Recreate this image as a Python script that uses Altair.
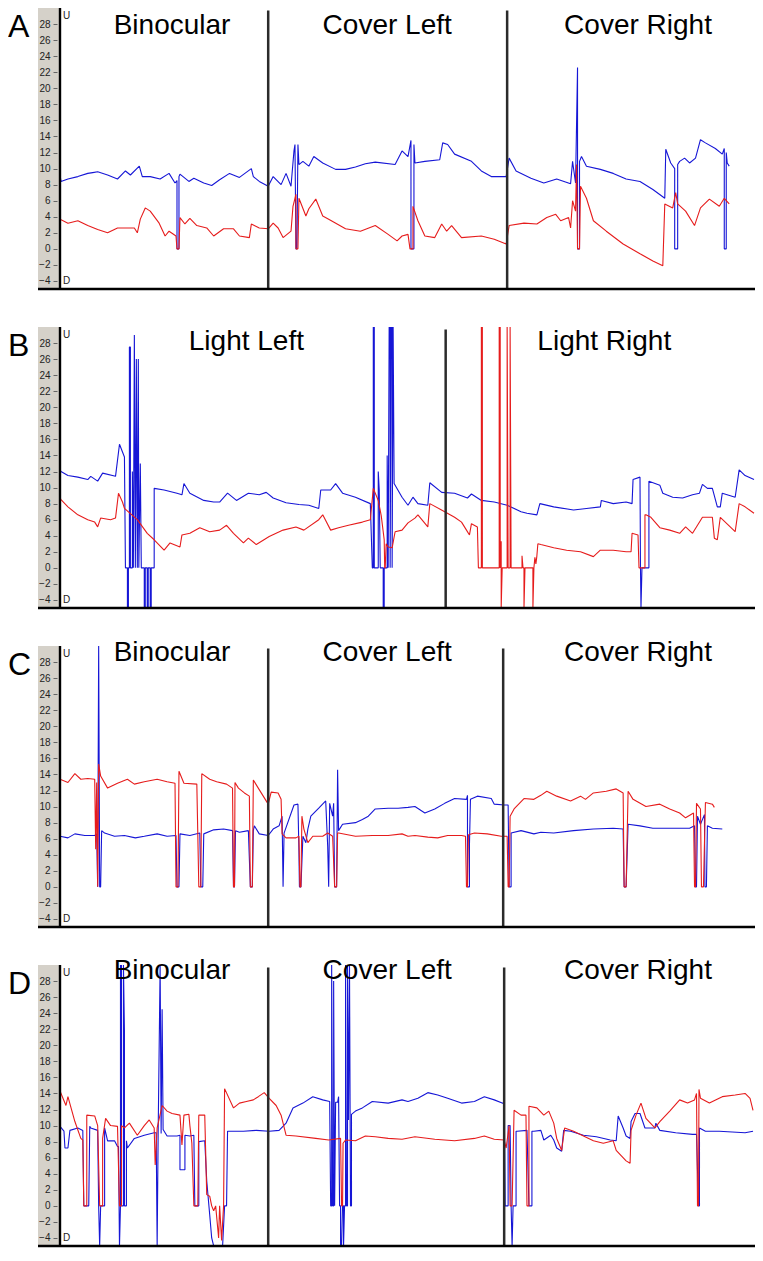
import altair as alt
import pandas as pd

# ---------------- data (time sample, value); 30 / -5 = trace leaves the plot ----------------
A_BLUE = [(62, 9.2), (63, 8.4), (70, 8.7), (80, 9.0), (90, 9.4), (95, 9.5), (100, 9.6), (110, 9.2), (120, 8.7),
          (128, 9.7), (133, 9.2), (142, 10.3), (145, 9.0), (153, 9.0), (163, 8.7), (172, 9.4), (178, 8.2), (180, 8.5),
          (180, 0), (182, 0), (182, 9.0), (183, 9.3), (192, 8.4), (197, 8.8), (207, 8.2), (215, 7.9), (223, 8.6),
          (233, 9.4), (243, 8.9), (255, 10.0), (257, 9.0), (263, 8.4), (272, 7.8), (277, 9.0), (285, 8.0), (290, 9.4),
          (295, 7.8), (298, 12.2), (299, 13.0), (300, 0), (301, 0), (302, 13.0), (303, 10.5), (307, 10.9), (313, 10.3),
          (318, 11.5), (327, 10.7), (340, 9.9), (350, 9.9), (360, 10.2), (370, 10.6), (380, 10.8), (400, 10.5),
          (407, 12.2), (413, 11.5), (416, 13.5), (416, 0), (419, 0), (419, 13.0), (420, 10.7), (430, 10.9), (445, 11.1),
          (448, 13.2), (453, 13.0), (460, 11.8), (477, 10.9), (487, 9.7), (497, 9.0), (512, 9.0), (515, 11.3),
          (522, 9.7), (537, 8.8), (550, 8.2), (563, 8.7), (577, 8.1), (579, 10.9), (582, 8.2), (584, 22.6), (584, 0),
          (586, 0), (586, 10.9), (588, 11.5), (593, 10.3), (607, 9.9), (620, 9.4), (633, 8.7), (647, 8.4), (660, 7.4),
          (672, 6.3), (673, 12.4), (678, 10.7), (682, 10.0), (682, 0), (685, 0), (685, 10.5), (687, 10.9), (692, 11.3),
          (697, 10.7), (703, 11.3), (708, 13.6), (713, 13.2), (723, 12.5), (730, 11.8), (732, 12.5), (732, 0), (734, 0),
          (734, 12.0), (735, 10.7), (737, 10.3)]
A_RED = [(62, 3.7), (70, 3.2), (80, 3.5), (90, 2.9), (100, 2.4), (110, 2.0), (120, 2.6), (137, 2.6), (140, 2.0),
         (143, 3.7), (148, 5.1), (153, 4.7), (162, 3.2), (168, 1.6), (172, 2.2), (179, 1.6), (180, 0), (182, 0),
         (183, 3.9), (188, 3.1), (193, 3.8), (200, 2.9), (210, 2.6), (217, 1.6), (227, 2.5), (237, 2.5), (243, 1.6),
         (253, 1.4), (255, 3.1), (263, 2.6), (272, 2.5), (277, 3.2), (282, 2.6), (287, 1.4), (295, 2.2), (297, 5.3),
         (300, 6.8), (300, 0), (302, 0), (303, 6.3), (310, 4.1), (313, 5.0), (320, 6.2), (327, 4.1), (333, 3.7),
         (350, 2.5), (365, 2.2), (380, 2.9), (393, 1.8), (402, 1.0), (407, 1.6), (413, 1.8), (415, 0), (418, 0),
         (418, 5.3), (423, 3.5), (430, 1.6), (440, 1.4), (447, 3.1), (452, 2.2), (457, 2.9), (467, 1.4), (487, 1.6),
         (500, 1.2), (512, 0.6), (515, 2.9), (530, 3.2), (543, 3.1), (553, 3.9), (562, 4.3), (567, 3.5), (575, 3.9),
         (577, 2.6), (579, 6.0), (582, 4.7), (583, 10.5), (584, 0), (586, 0), (587, 7.8), (593, 6.3), (600, 3.5),
         (613, 2.2), (630, 0.6), (647, -0.6), (660, -1.5), (670, -2.1), (672, 5.6), (680, 5.1), (683, 7.0), (685, 5.6),
         (693, 4.7), (702, 2.9), (708, 5.1), (717, 6.2), (727, 5.3), (732, 6.3), (737, 5.6)]

B_BLUE = [(62, 12.2), (63, 12.0), (70, 11.5), (80, 11.3), (90, 11.0), (93, 11.4), (100, 10.8), (105, 11.8),
          (118, 11.4), (122, 15.4), (127, 13.8), (128, 0), (130, 0), (130, -5), (131, -5), (131, 0), (132, 0),
          (132, 27.5), (133, 27.5), (133, 0), (135, 0), (135, 12), (136, 0), (137, 29), (138, 0), (139, 26), (140, 0),
          (141, 26), (141.5, 0), (143, 13), (144, 0), (147, 0), (147, -5), (148, -5), (148, 0), (150, 0), (150, -5),
          (151, -5), (151, 0), (153, 0), (153, -5), (154, -5), (154, 0), (157, 0), (157, 9.9), (167, 9.7), (180, 9.3),
          (185, 9.1), (187, 10.5), (193, 9.3), (207, 8.4), (217, 8.2), (223, 8.2), (231, 9.3), (240, 8.4), (252, 9.3),
          (263, 9.1), (270, 9.4), (277, 8.7), (290, 8.1), (303, 7.9), (313, 7.8), (323, 7.4), (325, 9.7), (335, 9.7),
          (340, 10.5), (347, 9.3), (360, 8.8), (375, 8.0), (377, 0), (378, 0), (378, 30), (379, 30), (379, 0),
          (383, 0), (383, 12), (384, 9.7), (385, 0), (388, 0), (388, -5), (389, -5), (389, 0), (392, 0), (392, 14),
          (393, 0), (394, 30), (395, 30), (395, 0), (396, 30), (397, 30), (397, 0), (398, 30), (399, 10.5), (407, 8.8),
          (413, 7.8), (418, 8.8), (423, 8.0), (433, 7.8), (435, 10.6), (447, 9.4), (460, 9.3), (473, 8.7), (477, 9.2),
          (487, 8.4), (500, 8.2), (513, 7.8), (527, 7.0), (533, 6.8), (543, 6.6), (546, 8.0), (560, 7.6), (580, 7.2),
          (593, 7.4), (607, 7.6), (608, 8.4), (620, 8.0), (633, 8.2), (639, 8.0), (640, 11.0), (647, 11.3),
          (647.5, 0), (648, -5), (649, 0), (656, 0), (656, 10.8), (667, 10.3), (670, 9.3), (680, 8.8), (690, 8.7),
          (700, 9.1), (707, 9.3), (710, 10.4), (715, 9.9), (720, 9.9), (725, 7.6), (728, 7.6), (730, 9.3), (743, 8.8),
          (747, 12.2), (753, 11.5), (762, 11.0)]
B_RED = [(62, 8.7), (63, 8.5), (70, 7.6), (80, 6.6), (90, 6.0), (97, 5.7), (100, 5.1), (103, 6.2), (113, 6.0),
         (118, 6.2), (121, 9.3), (125, 8.2), (127, 7.4), (140, 6.0), (150, 4.3), (157, 3.5), (167, 2.2), (173, 3.1),
         (183, 2.6), (185, 4.1), (193, 4.3), (203, 5.0), (213, 4.5), (223, 4.7), (230, 5.3), (237, 4.3), (247, 3.1),
         (252, 3.7), (260, 2.9), (273, 3.9), (287, 4.7), (300, 5.1), (308, 4.7), (323, 6.0), (327, 6.6), (335, 4.7),
         (343, 5.0), (353, 5.3), (367, 5.7), (375, 6.0), (378, 9.9), (383, 8.4), (386, 6.5), (389, 3.5), (389.5, 0),
         (390, 0), (391, 3.0), (393, 2.6), (397, 2.5), (400, 4.5), (407, 4.7), (413, 5.6), (420, 6.2), (423, 6.6),
         (433, 5.1), (435, 8.0), (450, 7.0), (460, 6.3), (467, 5.7), (472, 4.7), (475, 4.1), (477, 5.5), (483, 5.1),
         (484, 0), (487, 0), (487, 30), (488, 30), (488, 0), (505, 0), (505, 30), (506, 30), (506, 0), (507, 3.3),
         (507, -5), (508, 0), (513, 0), (513, 30), (514, 0), (516, 0), (516, 30), (517, 0), (528, 0), (528, 1.5),
         (529, 0), (530, 0), (530, -5), (531, 0), (539, 0), (539, -5), (540, 0), (541, 1.3), (542, 0.5), (543, 1.5),
         (544, 3.0), (547, 2.9), (560, 2.5), (573, 2.2), (587, 2.0), (600, 1.4), (607, 2.2), (620, 2.2), (633, 2.0),
         (638, 2.0), (639, 4.3), (645, 4.1), (646, 0), (652, 0), (652, 6.6), (653, 6.6), (658, 6.3), (667, 5.0),
         (677, 4.7), (687, 4.3), (693, 5.1), (700, 4.3), (710, 6.3), (720, 6.3), (722, 3.7), (725, 3.5), (728, 6.3),
         (743, 4.5), (747, 8.0), (753, 7.6), (762, 6.8)]

C_BLUE = [(62, 6.3), (70, 6.1), (77, 6.6), (87, 6.4), (97, 6.4), (99, 6.6), (100, 0), (101, 30), (102, 0), (103, 0),
          (104, 7.0), (107, 6.7), (117, 6.3), (127, 6.4), (138, 6.1), (147, 6.3), (160, 6.6), (170, 6.3), (179, 6.4),
          (180, 0), (182, 0), (183, 6.6), (193, 6.4), (203, 6.7), (204, 0), (206, 0), (207, 6.6), (217, 7.1),
          (227, 7.2), (236, 7.0), (237, 0), (238, 0), (239, 7.0), (243, 6.8), (252, 7.0), (254, 0), (256, 0),
          (257, 7.0), (258, 7.6), (263, 6.6), (272, 6.4), (277, 7.2), (283, 7.6), (286, 8.8), (287, 0), (288, 6.7),
          (298, 10.2), (302, 10.3), (303, 4.5), (303.5, 0), (305, 0), (307, 6.3), (310, 5.5), (312, 7.2), (315, 8.8),
          (323, 9.8), (330, 10.7), (332, 5.1), (333, 0), (334, 10.4), (337, 8.8), (338, 10.4), (339, 0), (341, 0),
          (342, 14.6), (343, 7.0), (347, 7.8), (360, 8.0), (367, 8.4), (373, 8.8), (380, 9.7), (393, 9.8), (403, 9.8),
          (413, 9.9), (420, 10.0), (430, 9.2), (440, 9.7), (450, 10.4), (460, 11.0), (472, 10.9), (473, 11.4),
          (473, 0), (475, 0), (475, 5.3), (476, 10.9), (483, 11.3), (497, 11.0), (500, 10.3), (510, 10.2), (514, 10.2),
          (515, 0), (517, 0), (517, 6.7), (527, 7.0), (540, 6.6), (547, 6.8), (560, 6.7), (580, 7.0), (600, 7.2),
          (620, 7.3), (630, 7.2), (631, 0), (633, 0), (635, 7.8), (647, 7.6), (660, 7.3), (680, 7.3), (697, 7.3),
          (702, 7.6), (703, 0), (704, 0), (705, 8.8), (708, 7.8), (712, 9.0), (712.5, 0), (714, 0), (715, 7.6),
          (720, 7.3), (730, 7.2)]
C_RED = [(62, 13.4), (70, 13.0), (77, 14.1), (83, 13.4), (90, 13.5), (97, 13.4), (98, 4.7), (99, 13.0), (100, 0),
         (101, 15.3), (103, 13.8), (110, 12.3), (120, 12.9), (130, 13.4), (137, 12.8), (147, 13.1), (160, 13.4),
         (170, 13.1), (178, 12.9), (179, 0), (181, 0), (182, 14.4), (187, 12.9), (200, 12.8), (202, 0), (204, 0),
         (205, 14.1), (213, 13.4), (220, 13.1), (230, 12.8), (236, 12.3), (237, 0), (238, 0), (238.5, 13.0),
         (242, 12.3), (248, 11.7), (253, 11.3), (254, 0), (256, 0), (257, 13.3), (262, 12.3), (267, 11.3), (272, 10.3),
         (275, 11.8), (282, 11.7), (285, 10.9), (286, 6.6), (290, 6.1), (300, 6.1), (303, 6.3), (304, 0), (305, 0),
         (306, 8.8), (308, 7.2), (312, 5.5), (317, 6.3), (327, 6.3), (332, 6.7), (337, 6.3), (339, 0), (341, 0),
         (342, 6.7), (343, 6.7), (360, 6.3), (377, 6.4), (393, 6.4), (407, 6.6), (413, 6.3), (420, 6.4), (433, 6.2),
         (443, 6.1), (453, 6.4), (467, 6.4), (471, 6.3), (472, 0), (473, 0), (474, 6.5), (480, 6.7), (493, 6.6),
         (507, 6.3), (513, 6.3), (514, 0), (515, 0), (516, 8.8), (520, 9.7), (530, 11.0), (540, 10.9), (547, 11.4),
         (553, 11.9), (563, 11.3), (577, 10.7), (587, 11.3), (592, 10.9), (600, 11.7), (613, 11.9), (623, 12.2),
         (630, 11.7), (631, 0), (633, 0), (635, 11.9), (640, 10.9), (653, 10.0), (667, 10.3), (677, 9.7), (687, 9.2),
         (693, 8.6), (701, 9.2), (702, 0), (703, 0), (704, 10.4), (708, 9.7), (709, 0), (711, 0), (713, 10.5),
         (720, 10.3), (722, 9.9)]

D_BLUE = [(62, 9.9), (66, 9.3), (67, 7.2), (70, 7.2), (72, 9.4), (80, 9.7), (85, 9.4), (86, 0), (91, 0), (92, 9.9),
          (93, 9.7), (100, 9.4), (101, 0), (102, -5), (103, 0), (107, 0), (107, 9.7), (110, 8.1), (117, 8.1),
          (120, 7.4), (121, 7.4), (122, -5), (123, 0), (123, 30), (124, 30), (124, 0), (126, 0), (126, 30),
          (127, 21.7), (127, 0), (129, 0), (129, 8.1), (130, 7.2), (137, 8.4), (147, 8.8), (157, 9.1), (159, 9.1),
          (160, -5), (161, 9.0), (163, 30), (164, 9.0), (165, 24.5), (166, 9.5), (170, 8.7), (180, 8.7), (183, 8.8),
          (183, 4.5), (188, 4.5), (188, 8.8), (193, 8.7), (197, 8.8), (198, 0), (202, 0), (202, 8.0), (208, 8.1),
          (210, 3.1), (213, -1.1), (215, -4.0), (217, -5), (226, -5), (228, 0), (230, 0), (231, 9.3), (233, 9.3),
          (247, 9.3), (260, 9.4), (273, 9.3), (283, 9.4), (290, 10.3), (297, 12.2), (307, 12.8), (317, 13.6),
          (327, 13.2), (334, 13.0), (335, 0), (336, 0), (336, 30), (337, 0), (338, 0), (338, 28), (339, 0),
          (340, 12.9), (342, 12.9), (343, 13.6), (344, 0), (345, 0), (345, -5), (346, -5), (347, 0), (348, 0),
          (348, -5), (349, 0), (350, 0), (350, 30), (351, 0), (352, 0), (352, 30), (353, 10.7), (354, 30), (355, 0),
          (356, 0), (356, 11.4), (360, 11.8), (367, 12.2), (377, 13.0), (393, 12.8), (407, 13.2), (413, 13.0),
          (423, 13.4), (433, 14.1), (443, 13.8), (453, 13.4), (467, 12.8), (480, 13.0), (490, 13.6), (500, 13.2),
          (508, 12.8), (510, 12.8), (511, 0), (514, 0), (514, 10.0), (516, 10.0), (517, 0), (518, -5), (519, 0),
          (522, 0), (522, 9.3), (523, 9.3), (533, 9.4), (535, 0), (538, 0), (538, 9.3), (540, 9.3), (547, 9.4),
          (550, 8.2), (557, 8.8), (560, 8.2), (563, 7.2), (568, 6.8), (570, 9.4), (577, 9.3), (590, 8.8), (603, 8.6),
          (617, 8.2), (623, 8.1), (625, 11.2), (630, 9.7), (633, 8.7), (637, 8.4), (638, 10.5), (642, 11.5),
          (647, 11.5), (652, 9.7), (662, 9.7), (663, 10.3), (667, 9.4), (683, 9.1), (700, 8.9), (704, 8.9), (706, 0),
          (707, 0), (707, 9.7), (713, 9.3), (727, 9.3), (740, 9.2), (753, 9.1), (761, 9.3)]
D_RED = [(62, 14.3), (68, 12.5), (70, 13.6), (77, 10.5), (83, 8.4), (85, 8.2), (86, 0), (89, 0), (89, 11.3),
         (97, 11.2), (100, 10.0), (102, 0), (105, 0), (105, 8.4), (108, 10.9), (113, 10.0), (120, 9.9), (122, 0),
         (124, 0), (124, 10.0), (127, 9.7), (132, 10.3), (140, 8.8), (147, 10.0), (152, 10.7), (157, 9.7), (158, 5.1),
         (160, 9.7), (165, 12.5), (170, 11.8), (175, 11.5), (183, 11.3), (185, 7.6), (187, 11.3), (192, 11.4),
         (193, 10.0), (195, 7.8), (197, 0), (201, 0), (202, 11.3), (208, 11.3), (210, 1.4), (213, 1.2), (215, 0),
         (217, -0.6), (219, 0), (222, -4.0), (223, 0), (225, -4.3), (227, 0), (228, 14.6), (237, 12.2), (243, 12.8),
         (250, 13.0), (257, 13.2), (262, 13.6), (268, 14.1), (273, 13.4), (280, 12.5), (285, 11.3), (290, 8.8),
         (300, 8.7), (320, 8.4), (333, 8.2), (345, 8.4), (346, 0), (347, 0), (347.5, 7.8), (350, 8.2), (360, 8.1),
         (370, 8.7), (380, 8.6), (393, 8.4), (407, 8.3), (420, 8.6), (440, 8.3), (460, 8.1), (480, 8.4), (490, 8.7),
         (500, 8.3), (510, 8.2), (512, 7.2), (515, 10.0), (516, 0), (518, 0), (520, 11.9), (527, 11.3), (532, 11.3),
         (533, 0), (535, 0), (535, 12.4), (543, 12.2), (550, 11.3), (555, 11.8), (560, 10.3), (563, 8.4), (568, 6.9),
         (571, 9.7), (580, 9.3), (590, 8.7), (600, 8.1), (610, 7.8), (620, 8.1), (623, 6.9), (633, 5.6), (637, 5.3),
         (638, 9.4), (643, 11.3), (648, 12.8), (653, 10.9), (662, 9.7), (667, 10.5), (677, 11.8), (687, 13.2),
         (695, 12.8), (702, 13.2), (704, 14.0), (705, 0), (706, 0), (706.5, 14.5), (708, 13.4), (717, 12.8),
         (730, 13.6), (743, 13.8), (753, 14.0), (758, 13.4), (761, 11.9)]

TITLES_3 = [("Binocular", 175), ("Cover Left", 392), ("Cover Right", 645)]
TITLES_B = [("Light Left", 250), ("Light Right", 611)]
DIV_A = [272, 513]
DIV_B = [451]
DIV_C = [272, 509]
DIV_D = [272, 510]
TICKS = list(range(-4, 29, 2))

# ---------------- layout ----------------
W, H = 695, 281
LEFT = 52
SP = 38
BLUE = "#1616d6"
RED = "#e61c1c"
FONT = "Liberation Sans"

xs = alt.Scale(domain=[62, 763], nice=False, zero=False)
ys = alt.Scale(domain=[-5, 30], nice=False, zero=False)
AX = alt.Axis(values=TICKS, domain=False, grid=False, tickSize=4, tickColor="#666", offset=3,
              labelFontSize=10, labelFont=FONT, labelColor="#222", labelPadding=3, title=None,
              zindex=2, labelOverlap=False, labelBound=False)


def X(f="t"):
    return alt.X(f + ":Q", scale=xs, axis=None)


def Y(f="v"):
    return alt.Y(f + ":Q", scale=ys, axis=AX)


def series(points):
    return pd.DataFrame({"t": [p[0] for p in points], "v": [p[1] for p in points],
                         "i": list(range(len(points)))})


def panel(letter, blue, red, titles, dividers, title_v, letter_v):
    one = alt.Data(values=[{}])
    gray = alt.Chart(one).mark_rect(color="#d5d1c9").encode(
        x=alt.value(-22), x2=alt.value(0), y=alt.value(0), y2=alt.value(H))
    bl = alt.Chart(series(blue)).mark_line(color=BLUE, strokeWidth=1.1, clip=True, strokeJoin="bevel").encode(
        x=X(), y=Y(), order=alt.Order("i:Q"))
    rd = alt.Chart(series(red)).mark_line(color=RED, strokeWidth=1.1, clip=True, strokeJoin="bevel").encode(
        x=X(), y=Y(), order=alt.Order("i:Q"))
    div = alt.Chart(pd.DataFrame({"t": dividers})).mark_rule(color="#2b2b2b", strokeWidth=2.5).encode(
        x=X(), y=alt.value(2.5), y2=alt.value(H))
    yaxis = alt.Chart(one).mark_rect(color="black").encode(
        x=alt.value(-1.2), x2=alt.value(1.2), y=alt.value(0), y2=alt.value(H))
    base = alt.Chart(one).mark_rect(color="black").encode(
        x=alt.value(-22), x2=alt.value(W), y=alt.value(H - 1.2), y2=alt.value(H + 1.2))
    tdf = pd.DataFrame({"s": [t[0] for t in titles], "t": [t[1] for t in titles],
                        "v": [title_v] * len(titles)})
    ttl = alt.Chart(tdf).mark_text(fontSize=28, font=FONT, align="center", baseline="alphabetic",
                                   color="black").encode(x=X(), y=Y(), text="s:N")
    lab = alt.Chart(pd.DataFrame({"s": [letter], "v": [letter_v]})).mark_text(
        fontSize=32, font=FONT, align="left", baseline="alphabetic", color="black").encode(
        x=alt.value(-LEFT), y=Y(), text="s:N")
    ud = alt.Chart(pd.DataFrame({"s": ["U", "D"], "v": [29.0, -4.0]})).mark_text(
        fontSize=10, font=FONT, align="left", baseline="middle", color="#222").encode(
        x=alt.value(3), y=Y(), text="s:N")
    return alt.layer(gray, bl, rd, div, yaxis, base, ttl, lab, ud).properties(width=W, height=H)


pA = panel("A", A_BLUE, A_RED, TITLES_3, DIV_A, 26.8, 26.35)
pB = panel("B", B_BLUE, B_RED, TITLES_B, DIV_B, 27.1, 26.35)
pC = panel("C", C_BLUE, C_RED, TITLES_3, DIV_C, 28.1, 26.35)
pD = panel("D", D_BLUE, D_RED, TITLES_3, DIV_D, 28.3, 26.35)

chart = alt.vconcat(pA, pB, pC, pD, spacing=SP, bounds="flush").properties(
    padding=0).configure_view(stroke=None)

chart.save("out.html", embed_options={"renderer": "svg", "actions": False})
